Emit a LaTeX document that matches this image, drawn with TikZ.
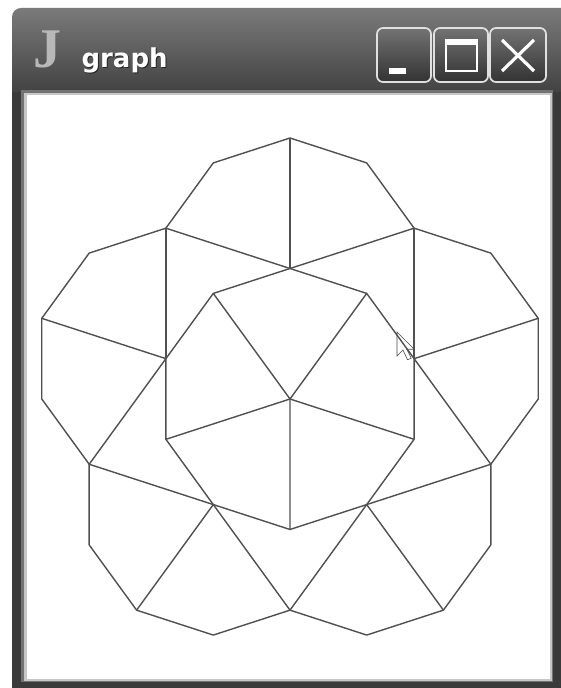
\documentclass[tikz,border=0pt]{standalone}
\usepackage{fontspec}
\setmainfont{DejaVu Sans}
\newfontfamily\logofont{Liberation Serif}
\usetikzlibrary{calc}
\definecolor{frame}{HTML}{3A3A3A}
\definecolor{ink}{HTML}{505050}

\begin{document}
\begin{tikzpicture}[x=1pt, y=1pt,
    tile/.style={draw=ink, line width=1.4pt, line join=round},
    button/.style={draw=white!88!black, line width=1.7pt, rounded corners=6pt,
        top color=black!55, bottom color=black!80},
    sign/.style={draw=white, line width=3.2pt}]
    \useasboundingbox (0,0) rectangle (560,688);
    \fill[white] (0,0) rectangle (560,688);

    % 1. Khung cửa sổ
    \fill[frame] (12,-12) rectangle (572,600);
    \shade[top color=black!52, bottom color=black!74]
        (12,596) -- (12,671) arc[start angle=180, end angle=90, radius=9]
        -- (572,680) -- (572,596) -- cycle;
    \fill[black!55] (21,6) rectangle (553,598);
    \fill[black!22] (24,7) rectangle (552,595);
    \fill[white] (27,9) rectangle (550,593);

    % 2. Thanh tiêu đề
    \node[anchor=base, text=black!28, font=\logofont\bfseries\fontsize{56}{56}\selectfont]
        (logo) at (47,620) {J};
    \node[anchor=base west, text=black!85, font=\bfseries\fontsize{26}{26}\selectfont]
        (shadow) at (79,619) {graph};
    \node[anchor=base west, text=white, font=\bfseries\fontsize{26}{26}\selectfont]
        (title) at (78,620) {graph};
    \draw[button] (377,606) rectangle (431,660);
    \draw[button] (434,606) rectangle (488,660);
    \draw[button] (490,606) rectangle (546,660);
    \fill[white] (389,614) rectangle (406,620);
    \draw[white, line width=2.4pt] (446,617) rectangle (477,648);
    \fill[white] (446,643) rectangle (477,649);
    \draw[sign] (502,648) -- (534,617);
    \draw[sign] (502,617) -- (534,648);

    % 3. Các đỉnh
    \def\rr{130.5}
    \coordinate (sun) at (290,289);
    \foreach \k in {0,...,4} {
        \pgfmathsetmacro\a{90+72*\k}
        \coordinate (q\k) at ($(sun)+(\a:\rr)$);
        \coordinate (w\k) at ($(sun)+(\a+36:\rr)$);
        \foreach \j in {0,...,4}
            \coordinate (r\k\j) at ($(q\k)+(\a+72-36*\j:\rr)$);
    }

    % 4. Diều và phi tiêu
    \foreach \k in {0,...,4} {
        \pgfmathtruncatemacro\n{mod(\k+4,5)}
        \draw[tile] (w\n) -- (q\k) -- (w\k) -- (sun);
        \draw[tile] (r\k0) -- (r\k1) -- (r\k2) -- (r\k3) -- (r\k4);
        \foreach \j in {0,2,4}
            \draw[tile] (q\k) -- (r\k\j);
    }

    % 5. Con trỏ chuột
    \draw[black!70, line width=0.6pt, shift={(397,356)}, scale=1.5]
        (0,0) -- (0,-16) -- (4,-12) -- (7,-18.5) -- (9.5,-17.5)
        -- (6.5,-11.5) -- (11.5,-11.5) -- cycle;
\end{tikzpicture}
\end{document}
